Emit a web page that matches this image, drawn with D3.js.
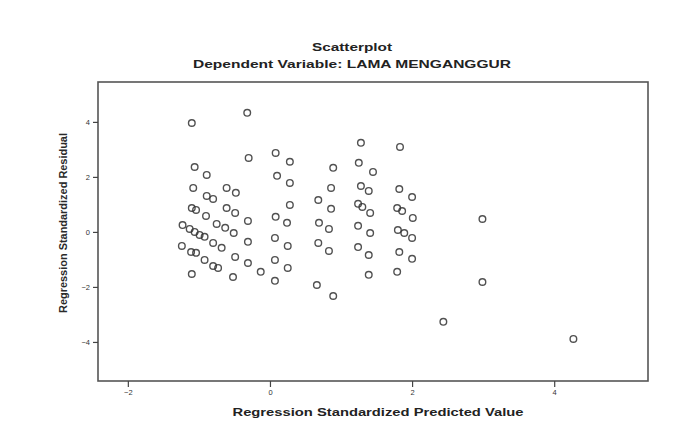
<!DOCTYPE html>
<html>
<head>
<meta charset="utf-8">
<script src="https://cdn.jsdelivr.net/npm/d3@7/dist/d3.min.js"></script>
<style>
  html, body { margin: 0; padding: 0; background: #ffffff; }
  svg { display: block; }
</style>
</head>
<body>
<svg id="chart" width="693" height="431"></svg>
<script>
// ---- data ----
const titleText = "Scatterplot";
const subtitleText = "Dependent Variable: LAMA MENGANGGUR";
const xLabel = "Regression Standardized Predicted Value";
const yLabel = "Regression Standardized Residual";
const xTicks = [-2, 0, 2, 4];
const yTicks = [-4, -2, 0, 2, 4];
const predicted = [
  -1.10, -0.32, -0.30, -1.06, -0.89, -1.08, -0.61, -0.48, -0.89, -0.80,
  -1.10, -1.04, -0.90, -0.61, -0.49, -0.31, -1.23, -1.13, -1.06, -0.99,
  -0.92, -0.75, -0.63, -0.51, -0.80, -0.68, -0.31, -1.24, -1.11, -1.04,
  -0.92, -0.80, -0.73, -0.49, -0.31, -1.10, -0.52, -0.13,
  0.08, 0.28, 0.10, 0.28, 0.28, 0.08, 0.24, 0.07, 0.25, 0.07, 0.25, 0.07,
  0.89, 0.86, 0.68, 0.86, 0.69, 0.83, 0.68, 0.83, 0.66, 0.89,
  1.28, 1.25, 1.45, 1.28, 1.39, 1.24, 1.30, 1.41, 1.24, 1.41, 1.24, 1.39, 1.39,
  1.83, 1.82, 2.00, 1.79, 1.86, 2.01, 1.80, 1.89, 2.00, 1.82, 2.00, 1.79,
  2.99, 2.99, 2.44, 4.27
];
const residual = [
  3.96, 4.33, 2.69, 2.36, 2.07, 1.60, 1.60, 1.42, 1.31, 1.20,
  0.87, 0.80, 0.58, 0.87, 0.69, 0.40, 0.25, 0.11, 0.00, -0.11,
  -0.18, 0.29, 0.15, -0.04, -0.40, -0.58, -0.36, -0.51, -0.73, -0.76,
  -1.02, -1.24, -1.31, -0.91, -1.13, -1.53, -1.64, -1.45,
  2.87, 2.55, 2.04, 1.78, 0.98, 0.55, 0.33, -0.22, -0.51, -1.02, -1.31, -1.78,
  2.33, 1.60, 1.16, 0.84, 0.33, 0.11, -0.40, -0.69, -1.93, -2.33,
  3.24, 2.51, 2.18, 1.67, 1.49, 1.02, 0.91, 0.69, 0.22, -0.04, -0.55, -0.84, -1.56,
  3.09, 1.56, 1.27, 0.87, 0.76, 0.51, 0.07, -0.04, -0.22, -0.73, -0.98, -1.45,
  0.47, -1.82, -3.27, -3.89
];

// ---- layout ----
const svg = d3.select("#chart");
const L = 98, R = 648, T = 82, B = 381;
const x = d3.scaleLinear().domain([-2.42, 5.32]).range([L, R]);
const y = d3.scaleLinear().domain([-5.42, 5.45]).range([B, T]);
const ink = "#333";
const font = "'Liberation Sans', Arial, sans-serif";

// titles
svg.append("text")
  .attr("x", 352).attr("y", 51)
  .attr("text-anchor", "middle")
  .attr("font-family", font).attr("font-weight", "bold")
  .attr("font-size", 10.5).attr("fill", "#222")
  .attr("textLength", 80).attr("lengthAdjust", "spacingAndGlyphs")
  .text(titleText);
svg.append("text")
  .attr("x", 352).attr("y", 68)
  .attr("text-anchor", "middle")
  .attr("font-family", font).attr("font-weight", "bold")
  .attr("font-size", 11).attr("fill", "#222")
  .attr("textLength", 318).attr("lengthAdjust", "spacingAndGlyphs")
  .text(subtitleText);

// frame
svg.append("rect")
  .attr("x", L).attr("y", T)
  .attr("width", R - L).attr("height", B - T)
  .attr("fill", "#ffffff")
  .attr("stroke", "#555").attr("stroke-width", 1.6);

// axes
const xAxis = svg.append("g")
  .attr("transform", `translate(0,${B})`)
  .call(d3.axisBottom(x).tickValues(xTicks).tickSize(6).tickPadding(3).tickFormat(d3.format("d")));
const yAxis = svg.append("g")
  .attr("transform", `translate(${L},0)`)
  .call(d3.axisLeft(y).tickValues(yTicks).tickSize(5).tickPadding(3).tickFormat(d3.format("d")));
[xAxis, yAxis].forEach(g => {
  g.select(".domain").remove();
  g.selectAll(".tick line").attr("stroke", "#444").attr("stroke-width", 1.2);
  g.selectAll(".tick text")
    .attr("font-family", font).attr("font-size", 7.5).attr("fill", "#333");
});

// axis titles
svg.append("text")
  .attr("x", 378).attr("y", 416)
  .attr("text-anchor", "middle")
  .attr("font-family", font).attr("font-weight", "bold")
  .attr("font-size", 11).attr("fill", "#222")
  .attr("textLength", 291).attr("lengthAdjust", "spacingAndGlyphs")
  .text(xLabel);
svg.append("text")
  .attr("transform", "translate(67,223) rotate(-90)")
  .attr("text-anchor", "middle")
  .attr("font-family", font).attr("font-weight", "bold")
  .attr("font-size", 10).attr("fill", "#2a2a2a")
  .attr("textLength", 180).attr("lengthAdjust", "spacingAndGlyphs")
  .text(yLabel);

// points
const pts = predicted.map((p, i) => ({ p, r: residual[i] }));
svg.append("g").selectAll("circle")
  .data(pts)
  .join("circle")
  .attr("cx", d => x(d.p))
  .attr("cy", d => y(d.r))
  .attr("r", 3.3)
  .attr("fill", "none")
  .attr("stroke", ink)
  .attr("stroke-opacity", 0.85)
  .attr("stroke-width", 1.4);
</script>
</body>
</html>
